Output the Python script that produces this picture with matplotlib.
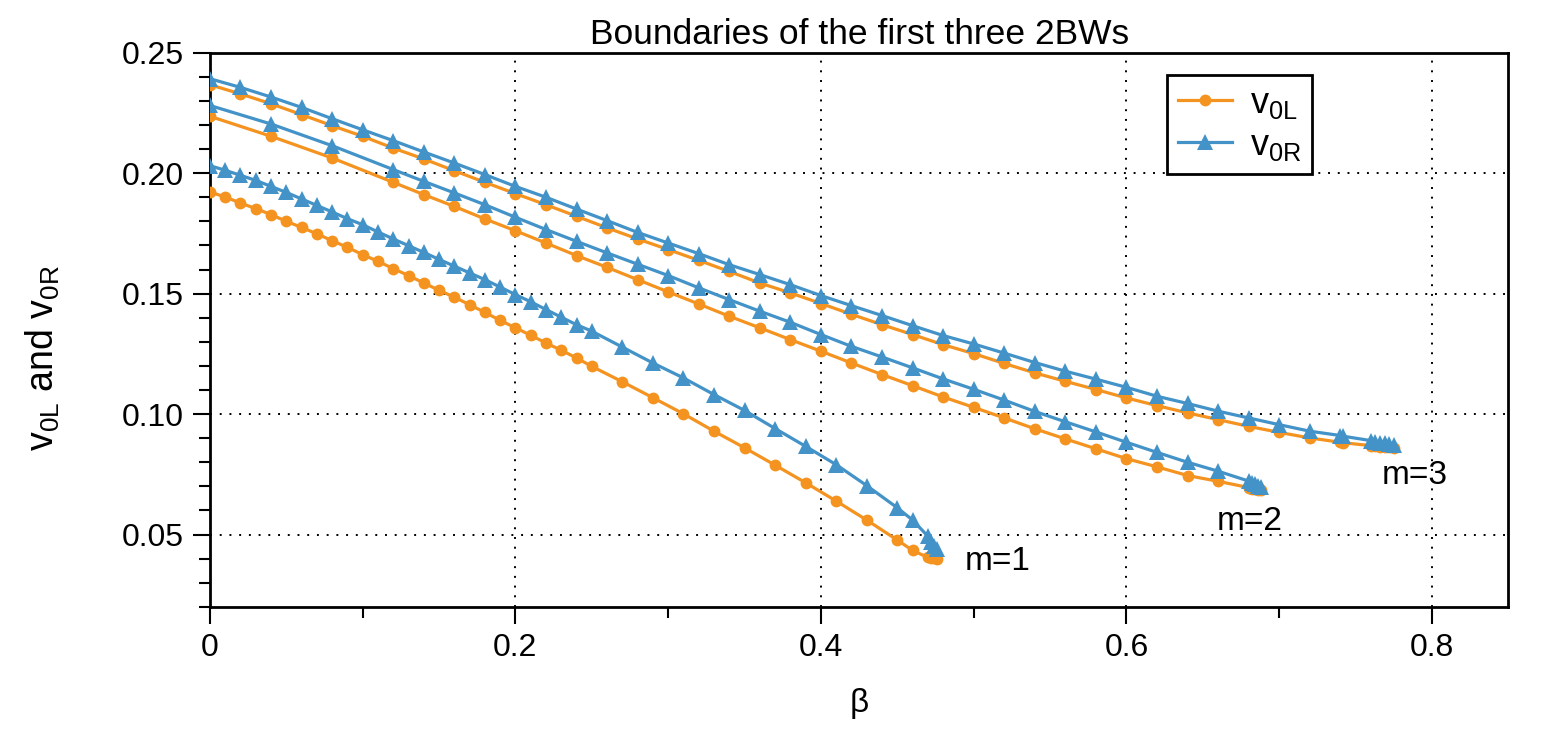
import numpy as np
import matplotlib.pyplot as plt
from matplotlib.ticker import MultipleLocator, FuncFormatter

plt.rcParams['font.family'] = ['Liberation Sans', 'DejaVu Sans']
plt.rcParams['mathtext.default'] = 'regular'

# beta grids
beta_m1 = [0.00, 0.01, 0.02, 0.03, 0.04, 0.05, 0.06, 0.07, 0.08, 0.09,
           0.10, 0.11, 0.12, 0.13, 0.14, 0.15, 0.16, 0.17, 0.18, 0.19,
           0.20, 0.21, 0.22, 0.23, 0.24, 0.25, 0.27, 0.29, 0.31, 0.33,
           0.35, 0.37, 0.39, 0.41, 0.43, 0.45, 0.46, 0.47, 0.472, 0.474, 0.476]
v0L_m1 = [0.1922, 0.1901, 0.1876, 0.1853, 0.1828, 0.1800, 0.1775, 0.1748, 0.1720, 0.1692,
          0.1662, 0.1634, 0.1604, 0.1575, 0.1544, 0.1514, 0.1485, 0.1454, 0.1422, 0.1389,
          0.1358, 0.1327, 0.1295, 0.1265, 0.1233, 0.1198, 0.1134, 0.1068, 0.1001, 0.0929,
          0.0860, 0.0788, 0.0715, 0.0639, 0.0560, 0.0477, 0.0434, 0.0405, 0.0402, 0.0401, 0.0400]
v0R_m1 = [0.2031, 0.2012, 0.1991, 0.1970, 0.1945, 0.1920, 0.1893, 0.1866, 0.1839, 0.1811,
          0.1786, 0.1756, 0.1727, 0.1699, 0.1671, 0.1642, 0.1614, 0.1586, 0.1558, 0.1527,
          0.1496, 0.1466, 0.1434, 0.1402, 0.1371, 0.1344, 0.1278, 0.1212, 0.1150, 0.1081,
          0.1015, 0.0940, 0.0866, 0.0790, 0.0703, 0.0611, 0.0560, 0.0493, 0.0470, 0.0452, 0.0438]

beta_m2 = [0.00, 0.04, 0.08, 0.12, 0.14, 0.16, 0.18, 0.20, 0.22, 0.24,
           0.26, 0.28, 0.30, 0.32, 0.34, 0.36, 0.38, 0.40, 0.42, 0.44,
           0.46, 0.48, 0.50, 0.52, 0.54, 0.56, 0.58, 0.60, 0.62, 0.64,
           0.66, 0.68, 0.682, 0.684, 0.686, 0.688]
v0L_m2 = [0.2236, 0.2153, 0.2063, 0.1962, 0.1911, 0.1862, 0.1810, 0.1761, 0.1710, 0.1658,
          0.1609, 0.1558, 0.1507, 0.1457, 0.1406, 0.1358, 0.1309, 0.1261, 0.1212, 0.1164,
          0.1118, 0.1071, 0.1028, 0.0984, 0.0939, 0.0897, 0.0856, 0.0815, 0.0781, 0.0745,
          0.0721, 0.0695, 0.0691, 0.0688, 0.0685, 0.0683]
v0R_m2 = [0.2281, 0.2204, 0.2114, 0.2015, 0.1966, 0.1918, 0.1869, 0.1817, 0.1766, 0.1717,
          0.1669, 0.1622, 0.1575, 0.1524, 0.1475, 0.1427, 0.1381, 0.1330, 0.1281, 0.1237,
          0.1192, 0.1146, 0.1103, 0.1058, 0.1011, 0.0968, 0.0926, 0.0883, 0.0841, 0.0800,
          0.0763, 0.0722, 0.0715, 0.0708, 0.0702, 0.0697]

beta_m3 = [0.00, 0.02, 0.04, 0.06, 0.08, 0.10, 0.12, 0.14, 0.16, 0.18,
           0.20, 0.22, 0.24, 0.26, 0.28, 0.30, 0.32, 0.34, 0.36, 0.38,
           0.40, 0.42, 0.44, 0.46, 0.48, 0.50, 0.52, 0.54, 0.56, 0.58,
           0.60, 0.62, 0.64, 0.66, 0.68, 0.70, 0.72, 0.74, 0.742, 0.76,
           0.763, 0.766, 0.769, 0.772, 0.775]
v0L_m3 = [0.2367, 0.2329, 0.2288, 0.2243, 0.2197, 0.2153, 0.2104, 0.2059, 0.2010, 0.1962,
          0.1915, 0.1869, 0.1821, 0.1773, 0.1727, 0.1683, 0.1638, 0.1592, 0.1544, 0.1503,
          0.1459, 0.1414, 0.1371, 0.1330, 0.1288, 0.1251, 0.1210, 0.1171, 0.1136, 0.1102,
          0.1067, 0.1035, 0.1005, 0.0977, 0.0949, 0.0924, 0.0901, 0.0883, 0.0881, 0.0869,
          0.0867, 0.0865, 0.0863, 0.0862, 0.0861]
v0R_m3 = [0.2392, 0.2356, 0.2316, 0.2273, 0.2226, 0.2180, 0.2135, 0.2088, 0.2042, 0.1994,
          0.1945, 0.1900, 0.1851, 0.1803, 0.1754, 0.1710, 0.1666, 0.1620, 0.1579, 0.1537,
          0.1492, 0.1450, 0.1409, 0.1367, 0.1326, 0.1291, 0.1253, 0.1214, 0.1178, 0.1145,
          0.1111, 0.1074, 0.1044, 0.1012, 0.0984, 0.0956, 0.0929, 0.0911, 0.0908, 0.0890,
          0.0886, 0.0882, 0.0879, 0.0876, 0.0873]

mode_labels = ['m=1', 'm=2', 'm=3']
label_pos = [(0.494, 0.0388), (0.659, 0.0554), (0.767, 0.0745)]

orange = '#F4931F'
blue = '#4393C8'

fig = plt.figure(figsize=(15.55, 7.32), dpi=100)
ax = fig.add_axes([0.135, 0.171, 0.835, 0.757])

curves = [(beta_m1, v0L_m1, v0R_m1), (beta_m2, v0L_m2, v0R_m2), (beta_m3, v0L_m3, v0R_m3)]
for i, (b, vl, vr) in enumerate(curves):
    ax.plot(b, vl, '-o', color=orange, lw=2.3, ms=8.5, mew=0,
            label='v$_{0L}$' if i == 0 else None, zorder=3)
    ax.plot(b, vr, '-^', color=blue, lw=2.3, ms=11, mew=0,
            label='v$_{0R}$' if i == 0 else None, zorder=3)

for txt, (x, y) in zip(mode_labels, label_pos):
    ax.text(x, y, txt, fontsize=24, va='center', ha='left')

ax.set_xlim(0, 0.85)
ax.set_ylim(0.02, 0.25)
ax.xaxis.set_major_locator(MultipleLocator(0.2))
ax.xaxis.set_minor_locator(MultipleLocator(0.1))
ax.yaxis.set_major_locator(MultipleLocator(0.05))
ax.yaxis.set_minor_locator(MultipleLocator(0.01))
ax.xaxis.set_major_formatter(FuncFormatter(lambda v, p: '%g' % round(v, 3)))
ax.yaxis.set_major_formatter(FuncFormatter(lambda v, p: '%.2f' % v))

ax.tick_params(which='major', direction='out', length=12, width=1.5, labelsize=23, pad=7)
ax.tick_params(which='minor', direction='out', length=8, width=1.5)
ax.grid(True, which='major', color='black', linestyle=(0, (1, 4)), lw=1.4)

for s in ax.spines.values():
    s.set_linewidth(2.0)

ax.set_title('Boundaries of the first three 2BWs', fontsize=25.5, pad=6)
ax.set_xlabel('β', fontsize=24, labelpad=18)
ax.set_ylabel('v$_{0L}$ and v$_{0R}$', fontsize=27)
ax.yaxis.set_label_coords(-0.114, 0.45)

leg = ax.legend(loc='upper left', bbox_to_anchor=(0.737, 0.960), borderaxespad=0,
                fontsize=26, fancybox=False, edgecolor='black', framealpha=1,
                handlelength=1.5, handletextpad=0.5, labelspacing=0.2, borderpad=0.3)
leg.get_frame().set_linewidth(2.0)

fig.savefig('out.png', dpi=100)
